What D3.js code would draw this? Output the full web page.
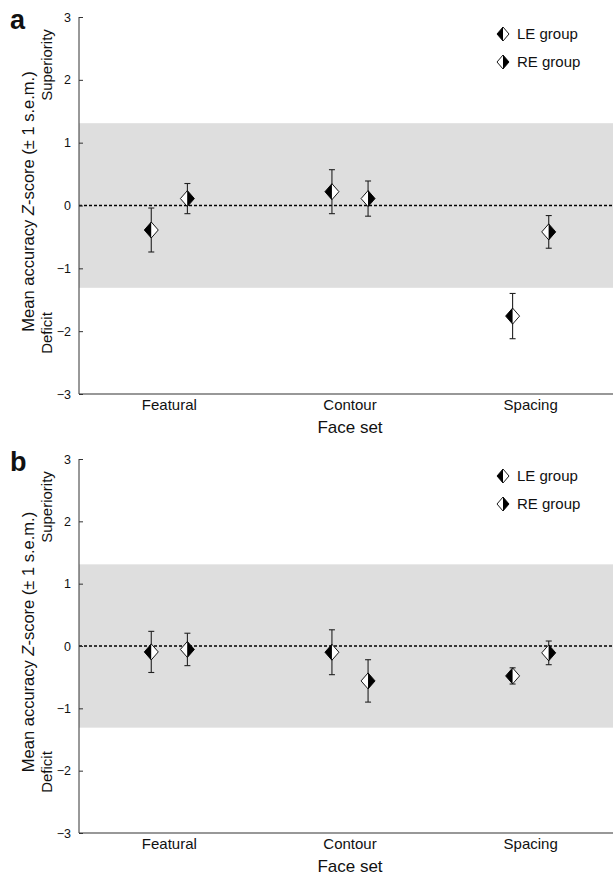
<!DOCTYPE html>
<head>
<style>
body { margin: 0; background: #fff; }
text { font-family: "Liberation Sans", Arial, sans-serif; fill: #111; }
.axis path, .axis line { stroke: #333; }
</style>
<meta charset="utf-8">
<title></title>
</head>

<body>
<script src="https://d3js.org/d3.v7.min.js"></script>

<script>
// Data
var categories = ["Featural", "Contour", "Spacing"];
var groups = ["LE group", "RE group"];
var yTicks = [-3, -2, -1, 0, 1, 2, 3];
var normalBand = [-1.31, 1.31];

var aLEmean = [-0.39, 0.22, -1.76];
var aLEsem = [0.35, 0.35, 0.36];
var aREmean = [0.11, 0.11, -0.42];
var aREsem = [0.24, 0.28, 0.26];

var bLEmean = [-0.095, -0.10, -0.48];
var bLEsem = [0.33, 0.36, 0.13];
var bREmean = [-0.055, -0.56, -0.11];
var bREsem = [0.26, 0.34, 0.19];

var width = 613,
    height = 876;

var svg = d3.select("body").append("svg")
            .attr("width", width)
            .attr("height", height);

var x = d3.scaleLinear().domain([0.5, 3.5]).range([79, 621]);
var offset = 0.1;

// half diamond: side = -1 left, 1 right
function halfDiamond(side, w, h) {
    return "M0," + (-h) + "L" + (side * w) + ",0L0," + h + "Z";
}

function drawMarker(g, cx, cy, blackSide, w, h) {
    var m = g.append("g").attr("transform", "translate(" + cx + "," + cy + ")");
    m.append("path").attr("d", halfDiamond(-1, w, h))
        .attr("fill", blackSide < 0 ? "#000" : "#fff");
    m.append("path").attr("d", halfDiamond(1, w, h))
        .attr("fill", blackSide > 0 ? "#000" : "#fff");
    m.append("path")
        .attr("d", "M0," + (-h) + "L" + w + ",0L0," + h + "L" + (-w) + ",0Z")
        .attr("fill", "none").attr("stroke", "#000").attr("stroke-width", 0.9);
}

function drawPanel(letter, y0, y1, leMean, leSem, reMean, reSem) {
    var g = svg.append("g");
    var y = d3.scaleLinear().domain([-3, 3]).range([y0, y1]);

    // grey band of normal range
    g.append("rect")
        .attr("x", x(0.5)).attr("y", y(normalBand[1]))
        .attr("width", width - x(0.5))
        .attr("height", y(normalBand[0]) - y(normalBand[1]))
        .attr("fill", "#dedede");

    g.append("line")
        .attr("x1", x(0.5)).attr("x2", width)
        .attr("y1", y(0)).attr("y2", y(0))
        .attr("stroke", "#000").attr("stroke-width", 1.6)
        .attr("stroke-dasharray", "3,2");

    var yAxis = g.append("g").attr("class", "axis")
        .attr("transform", "translate(" + x(0.5) + ",0)")
        .call(d3.axisRight(y).tickValues(yTicks).tickSize(4).tickFormat(""));
    yAxis.select(".domain").attr("d", "M0," + y(-3) + "V" + y(3));
    yAxis.selectAll("line").attr("stroke-width", 1);

    g.append("g").selectAll("text").data(yTicks).enter().append("text")
        .attr("x", x(0.5) - 8).attr("y", function(d) { return y(d) + 4.5; })
        .attr("text-anchor", "end").style("font-size", "12.5px")
        .text(function(d) { return d < 0 ? "\u2212" + (-d) : d; });

    g.append("line")
        .attr("x1", x(0.5)).attr("x2", width)
        .attr("y1", y(-3)).attr("y2", y(-3))
        .attr("stroke", "#333").attr("stroke-width", 1.2);

    g.append("g").selectAll("text").data(categories).enter().append("text")
        .attr("x", function(d, i) { return x(i + 1); })
        .attr("y", y(-3) + 16)
        .attr("text-anchor", "middle").style("font-size", "15px")
        .text(function(d) { return d; });

    g.append("text")
        .attr("x", x(2)).attr("y", y(-3) + 39)
        .attr("text-anchor", "middle").style("font-size", "17px")
        .text("Face set");

    var lab = g.append("text")
        .attr("transform", "translate(34," + (y(0) - 4) + ") rotate(-90)")
        .attr("text-anchor", "middle").style("font-size", "16.5px");
    lab.append("tspan").text("Mean accuracy ");
    lab.append("tspan").style("font-style", "italic").text("Z");
    lab.append("tspan").text("-score (\u00b1 1 s.e.m.)");

    g.append("text")
        .attr("transform", "translate(52," + (y(3) + 48) + ") rotate(-90)")
        .attr("text-anchor", "middle").style("font-size", "15px")
        .text("Superiority");
    g.append("text")
        .attr("transform", "translate(52," + (y(-3) - 61) + ") rotate(-90)")
        .attr("text-anchor", "middle").style("font-size", "15px")
        .text("Deficit");

    g.append("text")
        .attr("x", 10).attr("y", y(3) + 12)
        .style("font-size", "27px").style("font-weight", "bold")
        .text(letter);

    // error bars and markers
    var series = [
        { mean: leMean, sem: leSem, dx: -offset, black: -1 },
        { mean: reMean, sem: reSem, dx: offset, black: 1 }
    ];
    series.forEach(function(s) {
        s.mean.forEach(function(m, i) {
            var cx = x(i + 1 + s.dx);
            var top = y(m + s.sem[i]), bot = y(m - s.sem[i]);
            g.append("line").attr("x1", cx).attr("x2", cx)
                .attr("y1", top).attr("y2", bot)
                .attr("stroke", "#222").attr("stroke-width", 1.1);
            [top, bot].forEach(function(yy) {
                g.append("line").attr("x1", cx - 3).attr("x2", cx + 3)
                    .attr("y1", yy).attr("y2", yy)
                    .attr("stroke", "#222").attr("stroke-width", 1.1);
            });
            drawMarker(g, cx, y(m), s.black, 7, 8);
        });
    });

    // legend
    groups.forEach(function(name, i) {
        var ly = y(3) + 17 + i * 28;
        drawMarker(g, 503, ly, i === 0 ? -1 : 1, 6, 7);
        g.append("text").attr("x", 517).attr("y", ly + 5)
            .style("font-size", "15px").text(name);
    });
}

drawPanel("a", 394, 17, aLEmean, aLEsem, aREmean, aREsem);
drawPanel("b", 833, 459, bLEmean, bLEsem, bREmean, bREsem);
</script>
</body>
</html>
